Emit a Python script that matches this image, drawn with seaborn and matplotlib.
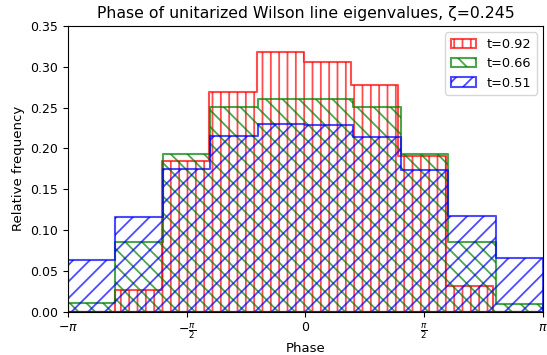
import numpy as np
import matplotlib
matplotlib.use("Agg")
from matplotlib import pyplot as plt
from matplotlib.colors import to_rgba
import seaborn as sns

# bin heights (density), 10 bins over [-pi, pi]
labels = ["t=0.92", "t=0.66", "t=0.51"]
colors = ["red", "green", "blue"]
hatches = ["||", "\\\\", "//"]

red_vals = [0.0, 0.026, 0.184, 0.269, 0.3185, 0.306, 0.278, 0.191, 0.031, 0.0]
green_vals = [0.0104, 0.0854, 0.193, 0.2505, 0.260, 0.260, 0.251, 0.193, 0.085, 0.0096]
blue_vals = [0.0633, 0.1153, 0.175, 0.215, 0.2296, 0.229, 0.214, 0.1735, 0.1174, 0.0657]

# red sample range is slightly narrower than the others
red_range = (-3.148, 3.105)
full_range = (-np.pi, np.pi)

series = [
    (red_vals, red_range),
    (green_vals, full_range),
    (blue_vals, full_range),
]

plt.rcParams['hatch.linewidth'] = 1.3

fig = plt.figure(figsize=(5.47, 3.55), dpi=100)
ax = fig.add_axes([0.1243, 0.1225, 0.8684, 0.8043])

for (vals, rng), lab, col, hat in zip(series, labels, colors, hatches):
    edges = np.linspace(rng[0], rng[1], len(vals) + 1)
    centers = (edges[:-1] + edges[1:]) / 2
    sns.histplot(x=centers, weights=vals, bins=list(edges), element="step",
                 fill=True, color=col, facecolor="none",
                 edgecolor=to_rgba(col, 0.7),
                 hatch=hat, linewidth=1.5, label=lab, ax=ax)

ax.set_xlim(-np.pi, np.pi)
ax.set_ylim(0, 0.35)
ax.set_xticks([-np.pi, -np.pi / 2, 0, np.pi / 2, np.pi])
ax.set_xticklabels([r"$-\pi$", r"$-\frac{\pi}{2}$", r"$0$", r"$\frac{\pi}{2}$", r"$\pi$"])
ax.set_yticks(np.arange(0, 0.36, 0.05))
ax.tick_params(labelsize=9)
ax.set_xlabel("Phase", fontsize=9.5, labelpad=1)
ax.set_ylabel("Relative frequency", fontsize=9.5)
ax.set_title("Phase of unitarized Wilson line eigenvalues, ζ=0.245", fontsize=11.3)
ax.legend(loc="upper right", fontsize=9.3)

plt.savefig("out.png", dpi=100)
